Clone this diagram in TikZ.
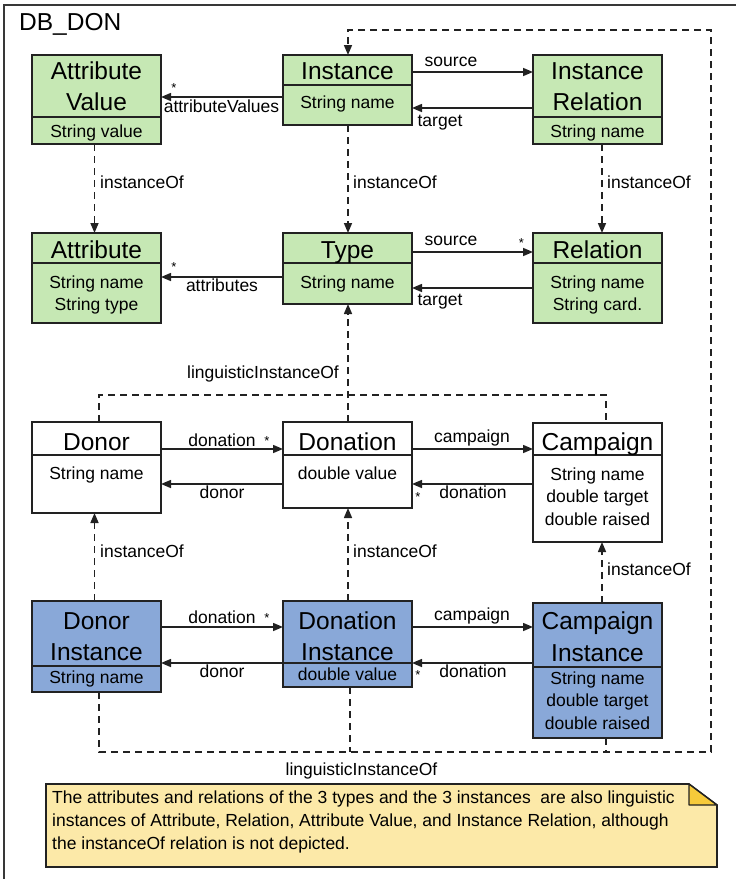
\documentclass[tikz,border=0pt]{standalone}
\usepackage{fontspec}
\setmainfont{Liberation Sans}
\usetikzlibrary{arrows.meta}

\definecolor{metagreen}{RGB}{198,232,180}
\definecolor{instblue}{RGB}{137,168,216}
\definecolor{notefill}{RGB}{252,233,168}
\definecolor{notefold}{RGB}{246,202,58}
\definecolor{ink}{RGB}{34,34,34}

\tikzset{
  cls/.style={draw=ink, line width=1.8pt, anchor=north west, inner sep=0pt, outer sep=0pt},
  divider/.style={draw=ink, line width=1.4pt},
  ttl/.style={anchor=base, align=center, inner sep=0pt, font=\fontsize{24.5}{31.5}\selectfont},
  attrs/.style={anchor=base, align=center, inner sep=0pt, font=\fontsize{17.5}{22.5}\selectfont},
  lbl/.style={anchor=base, inner sep=0pt, font=\fontsize{17.5}{21}\selectfont},
  lblw/.style={anchor=base west, inner sep=0pt, font=\fontsize{17.5}{21}\selectfont},
  star/.style={inner sep=0pt, font=\fontsize{13}{13}\selectfont},
  assoc/.style={draw=ink, line width=1.5pt, -{Triangle[length=10pt,width=8pt]}},
  dline/.style={draw=ink, line width=1.5pt, dash pattern=on 7pt off 5pt},
  dassoc/.style={dline, -{Triangle[length=10pt,width=8pt]}},
}

\begin{document}
\begin{tikzpicture}[x=1pt,y=-1pt]
\useasboundingbox (0,0) rectangle (736,879);

% outer package frame and its name
\draw[draw=ink!90, line width=2pt] (4,890) -- (4,4.5) -- (745,4.5);
\node[anchor=base west, inner sep=0pt, font=\fontsize{24.5}{30}\selectfont] (pkg) at (19,30) {DB\_DON};

% ---------- linguistic meta level ----------
% (a multi-line text node is placed by the baseline of its last line)
\node[cls, fill=metagreen, minimum width=129pt, minimum height=89pt] (av) at (32,55) {};
\draw[divider] (av.west |- 0,117) -- (av.east |- 0,117);
\node[ttl] (avT) at (96.5,110.5) {Attribute\\Value};
\node[attrs] (avA) at (96.5,137) {String value};

\node[cls, fill=metagreen, minimum width=129pt, minimum height=70pt] (inst) at (283,55) {};
\draw[divider] (inst.west |- 0,85) -- (inst.east |- 0,85);
\node[ttl] (instT) at (347.5,79) {Instance};
\node[attrs] (instA) at (347.5,108) {String name};

\node[cls, fill=metagreen, minimum width=129pt, minimum height=89pt] (ir) at (533,55) {};
\draw[divider] (ir.west |- 0,117) -- (ir.east |- 0,117);
\node[ttl] (irT) at (597.5,110.5) {Instance\\Relation};
\node[attrs] (irA) at (597.5,137) {String name};

\node[cls, fill=metagreen, minimum width=129pt, minimum height=90pt] (attr) at (32,233) {};
\draw[divider] (attr.west |- 0,263) -- (attr.east |- 0,263);
\node[ttl] (attrT) at (96.5,258) {Attribute};
\node[attrs] (attrA) at (96.5,310.5) {String name\\String type};

\node[cls, fill=metagreen, minimum width=129pt, minimum height=71pt] (type) at (283,233) {};
\draw[divider] (type.west |- 0,263) -- (type.east |- 0,263);
\node[ttl] (typeT) at (347.5,258) {Type};
\node[attrs] (typeA) at (347.5,288) {String name};

\node[cls, fill=metagreen, minimum width=129pt, minimum height=90pt] (rel) at (533,233) {};
\draw[divider] (rel.west |- 0,263) -- (rel.east |- 0,263);
\node[ttl] (relT) at (597.5,258) {Relation};
\node[attrs] (relA) at (597.5,310.5) {String name\\String card.};

% meta-level associations
\draw[assoc] (inst.west |- 0,97) -- (av.east |- 0,97);
\node[star] (s1) at (174,88) {*};
\node[lbl] (l1) at (221.5,112) {attributeValues};
\draw[assoc] (inst.east |- 0,72) -- (ir.west |- 0,72);
\node[lbl] (l2) at (451,66) {source};
\draw[assoc] (ir.west |- 0,108) -- (inst.east |- 0,108);
\node[lbl] (l3) at (440,126) {target};

\draw[assoc] (type.west |- 0,277) -- (attr.east |- 0,277);
\node[star] (s2) at (174,267) {*};
\node[lbl] (l4) at (222,291) {attributes};
\draw[assoc] (type.east |- 0,252) -- (rel.west |- 0,252);
\node[lbl] (l5) at (451,245) {source};
\node[star] (s3) at (521.5,243) {*};
\draw[assoc] (rel.west |- 0,288) -- (type.east |- 0,288);
\node[lbl] (l6) at (440,305) {target};

% instanceOf between the meta levels
\draw[dassoc] (av.south -| 94.5,0) -- (attr.north -| 94.5,0);
\node[lblw] (i1) at (100,188) {instanceOf};
\draw[dassoc] (inst.south -| 348,0) -- (type.north -| 348,0);
\node[lblw] (i2) at (353,188) {instanceOf};
\draw[dassoc] (ir.south -| 602,0) -- (rel.north -| 602,0);
\node[lblw] (i3) at (607,188) {instanceOf};

% ---------- domain types ----------
\node[cls, fill=white, minimum width=129pt, minimum height=91pt] (donor) at (32,422) {};
\draw[divider] (donor.west |- 0,455) -- (donor.east |- 0,455);
\node[ttl] (donorT) at (96.5,450) {Donor};
\node[attrs] (donorA) at (96.5,479) {String name};

\node[cls, fill=white, minimum width=129pt, minimum height=86pt] (donation) at (283,422) {};
\draw[divider] (donation.west |- 0,455) -- (donation.east |- 0,455);
\node[ttl] (donationT) at (347.5,450) {Donation};
\node[attrs] (donationA) at (347.5,479) {double value};

\node[cls, fill=white, minimum width=129pt, minimum height=119pt] (camp) at (533,423) {};
\draw[divider] (camp.west |- 0,455) -- (camp.east |- 0,455);
\node[ttl] (campT) at (597.5,450) {Campaign};
\node[attrs] (campA) at (597.5,525) {String name\\double target\\double raised};

\draw[assoc] (donor.east |- 0,449) -- (donation.west |- 0,449);
\node[lbl] (l7) at (222,446) {donation};
\node[star] (s4) at (267,441) {*};
\draw[assoc] (donation.west |- 0,484) -- (donor.east |- 0,484);
\node[lbl] (l8) at (222,498) {donor};
\draw[assoc] (donation.east |- 0,449) -- (camp.west |- 0,449);
\node[lbl] (l9) at (472,442) {campaign};
\draw[assoc] (camp.west |- 0,484) -- (donation.east |- 0,484);
\node[lbl] (l10) at (473,498) {donation};
\node[star] (s5) at (418,497) {*};

% domain types are linguistic instances of Type
\coordinate (uL) at (99,395);
\coordinate (uR) at (606,395);
\draw[dline] (donor.north -| uL) -- (uL) -- (uR) -- (camp.north -| uR);
\draw[dassoc] (donation.north -| 348,0) -- (type.south -| 348,0);
\node[lbl] (li1) at (263,378) {linguisticInstanceOf};

% ---------- domain instances ----------
\node[cls, fill=instblue, minimum width=129pt, minimum height=91pt] (di) at (32,601) {};
\draw[divider] (di.west |- 0,666) -- (di.east |- 0,666);
\node[ttl] (diT) at (96.5,660.5) {Donor\\Instance};
\node[attrs] (diA) at (96.5,683) {String name};

\node[cls, fill=instblue, minimum width=129pt, minimum height=86pt] (dni) at (283,601) {};
\draw[divider] (dni.west |- 0,663) -- (dni.east |- 0,663);
\node[ttl] (dniT) at (347.5,660.5) {Donation\\Instance};
\node[attrs] (dniA) at (347.5,680) {double value};

\node[cls, fill=instblue, minimum width=129pt, minimum height=135pt] (ci) at (533,603) {};
\draw[divider] (ci.west |- 0,667) -- (ci.east |- 0,667);
\node[ttl] (ciT) at (597.5,661) {Campaign\\Instance};
\node[attrs] (ciA) at (597.5,729) {String name\\double target\\double raised};

\draw[assoc] (di.east |- 0,627) -- (dni.west |- 0,627);
\node[lbl] (l11) at (222,623) {donation};
\node[star] (s6) at (267,618) {*};
\draw[assoc] (dni.west |- 0,663) -- (di.east |- 0,663);
\node[lbl] (l12) at (222,677) {donor};
\draw[assoc] (dni.east |- 0,627) -- (ci.west |- 0,627);
\node[lbl] (l13) at (472,620) {campaign};
\draw[assoc] (ci.west |- 0,663) -- (dni.east |- 0,663);
\node[lbl] (l14) at (473,677) {donation};
\node[star] (s7) at (418,675) {*};

% instanceOf between instances and domain types
\draw[dassoc] (di.north -| 94.5,0) -- (donor.south -| 94.5,0);
\node[lblw] (i4) at (100,557) {instanceOf};
\draw[dassoc] (dni.north -| 348,0) -- (donation.south -| 348,0);
\node[lblw] (i5) at (353,557) {instanceOf};
\draw[dassoc] (ci.north -| 602,0) -- (camp.south -| 602,0);
\node[lblw] (i6) at (607,575) {instanceOf};

% domain instances are linguistic instances of Instance
\coordinate (bL) at (99,752);
\coordinate (bM) at (350,752);
\coordinate (bC) at (606,752);
\coordinate (bR) at (711,752);
\coordinate (tR) at (711,30);
\coordinate (tL) at (348,30);
\draw[dassoc] (di.south -| bL) -- (bL) -- (bR) -- (tR) -- (tL) -- (inst.north -| tL);
\draw[dline] (dni.south -| bM) -- (bM);
\draw[dline] (ci.south -| bC) -- (bC);
\node[lbl] (li2) at (361.5,775) {linguisticInstanceOf};

% ---------- note ----------
\draw[draw=ink, line width=1.6pt, fill=notefill] (46,784) -- (689,784) -- (717,805) -- (717,867) -- (46,867) -- cycle;
\draw[draw=ink, line width=1.4pt, fill=notefold, line join=round] (689,784) -- (689,805) -- (717,805) -- cycle;
\node[anchor=north west, align=left, inner sep=0pt, font=\fontsize{17.5}{23}\selectfont] (note) at (52,791)
  {The attributes and relations of the 3 types and the 3 instances\ \ are also linguistic\\
   instances of Attribute, Relation, Attribute Value, and Instance Relation, although\\
   the instanceOf relation is not depicted.};
\end{tikzpicture}
\end{document}
